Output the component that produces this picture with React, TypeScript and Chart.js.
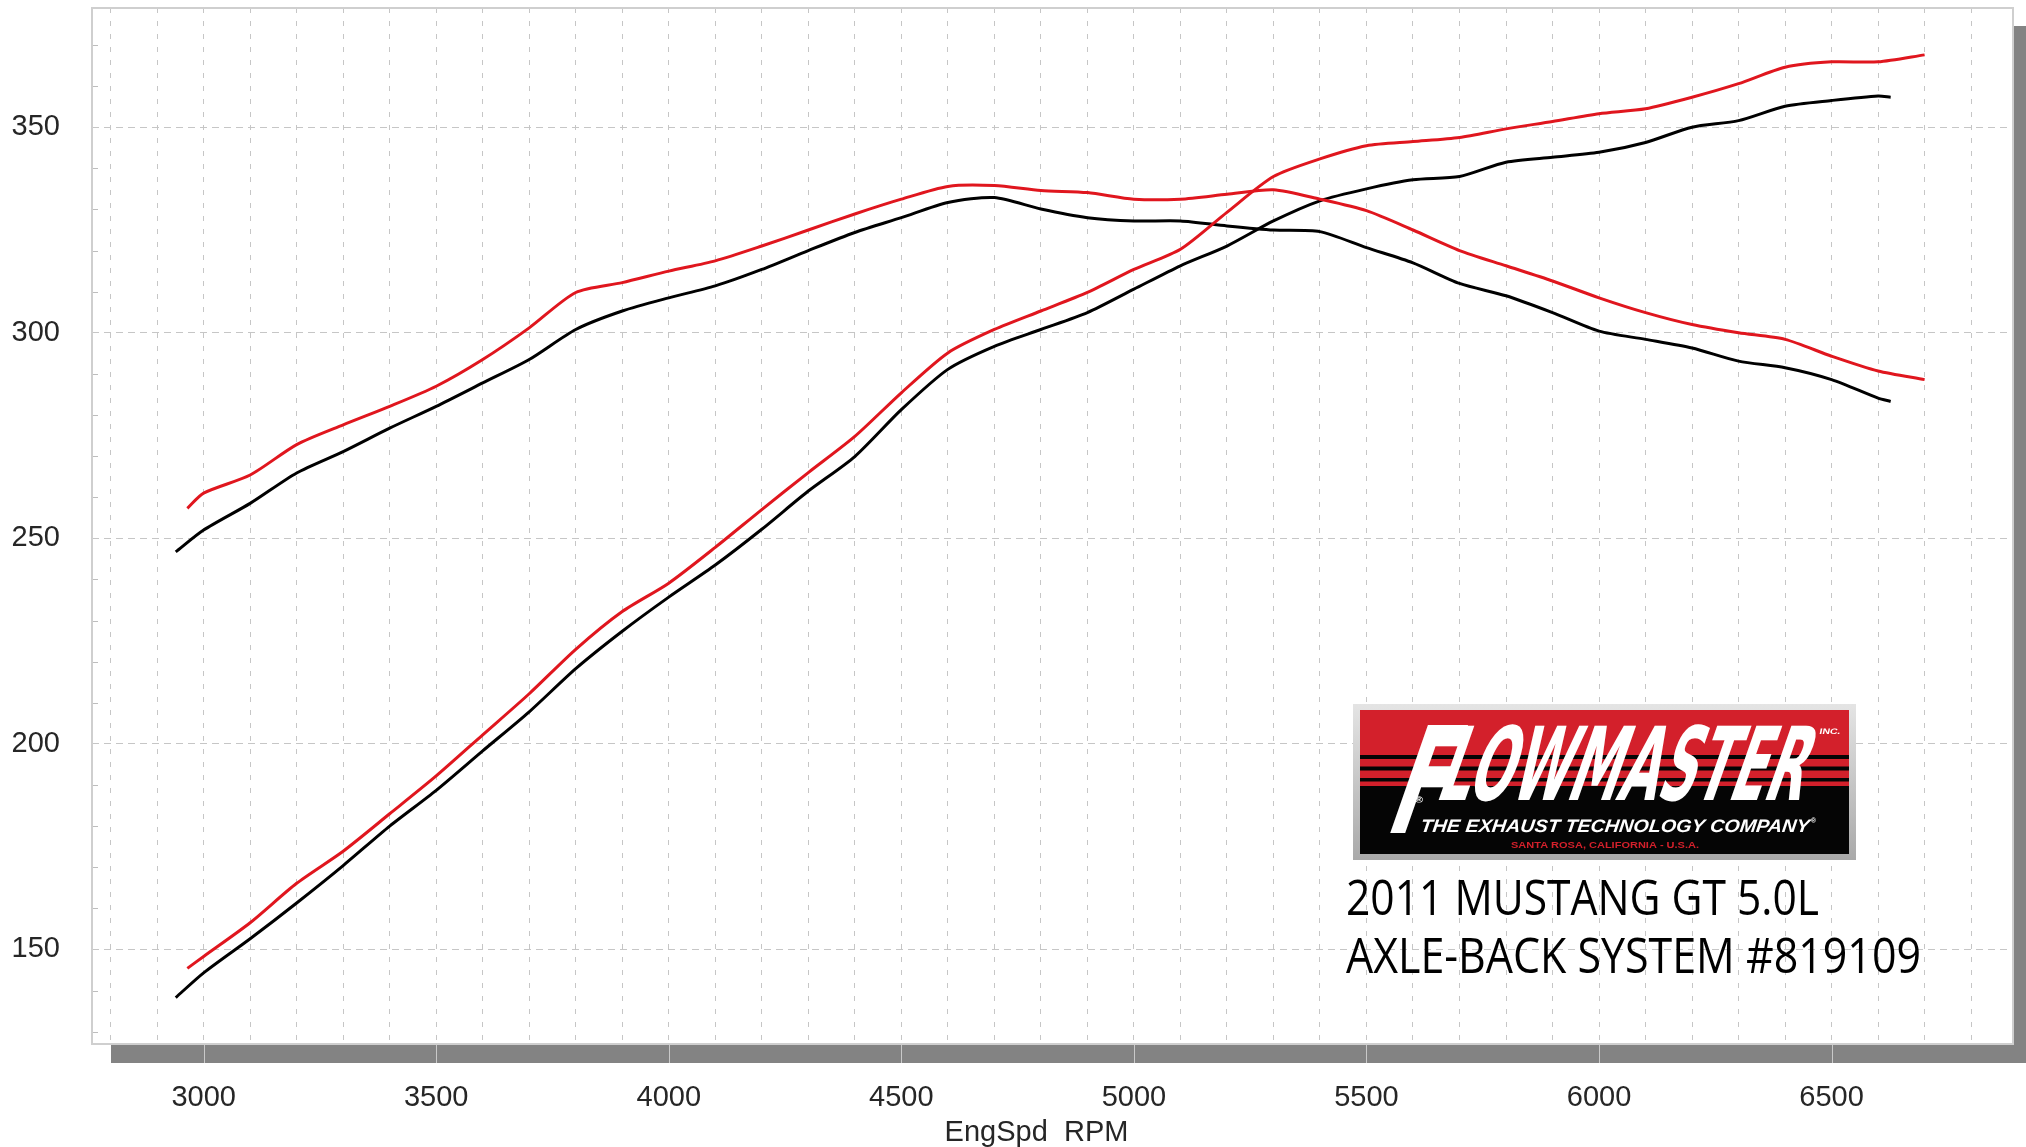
import React, { useEffect, useRef } from 'react';
import { Chart, registerables } from 'chart.js';

Chart.register(...registerables);

// ---------- data ----------
const rpmRed = [2965, 3000, 3100, 3200, 3300, 3400, 3500, 3600, 3700, 3800, 3900, 4000, 4100, 4200, 4300, 4400, 4500, 4600, 4700, 4800, 4900, 5000, 5100, 5200, 5300, 5400, 5500, 5600, 5700, 5800, 5900, 6000, 6100, 6200, 6300, 6400, 6500, 6600, 6700];
const redTorque = [257.3, 261.0, 265.4, 272.8, 277.6, 282.1, 287.0, 293.5, 301.2, 309.8, 312.2, 315.0, 317.5, 321.1, 325.0, 328.9, 332.5, 335.6, 335.8, 334.6, 334.1, 332.5, 332.5, 333.7, 334.8, 332.5, 329.7, 325.0, 320.0, 316.3, 312.6, 308.5, 304.9, 302.0, 300.0, 298.4, 294.3, 290.7, 288.6];
const redHP = [145.4, 148.3, 156.5, 166.1, 173.9, 183.0, 192.2, 202.2, 212.2, 223.0, 232.2, 239.1, 247.8, 257.0, 266.0, 274.8, 285.4, 295.1, 300.8, 305.3, 309.8, 315.4, 320.3, 329.3, 338.0, 342.3, 345.5, 346.5, 347.5, 349.6, 351.4, 353.3, 354.5, 357.3, 360.6, 364.6, 365.9, 365.9, 367.6];

const rpmBlack = [2940, 3000, 3100, 3200, 3300, 3400, 3500, 3600, 3700, 3800, 3900, 4000, 4100, 4200, 4300, 4400, 4500, 4600, 4700, 4800, 4900, 5000, 5100, 5200, 5300, 5400, 5500, 5600, 5700, 5800, 5900, 6000, 6100, 6200, 6300, 6400, 6500, 6600, 6627];
const blackTorque = [246.7, 252.0, 258.5, 265.9, 271.1, 276.8, 282.1, 287.8, 293.5, 300.8, 305.3, 308.5, 311.4, 315.4, 320.0, 324.4, 328.0, 331.7, 332.9, 330.1, 328.0, 327.2, 327.2, 326.0, 325.0, 324.6, 320.7, 317.0, 312.0, 309.0, 304.9, 300.4, 298.4, 296.3, 293.1, 291.5, 288.6, 284.1, 283.3];
const blackHP = [138.3, 144.3, 152.6, 161.3, 170.4, 180.0, 188.7, 198.3, 207.8, 218.3, 227.4, 235.7, 243.5, 252.2, 261.5, 269.9, 281.3, 291.1, 296.7, 300.8, 304.9, 310.6, 316.3, 321.1, 327.2, 332.1, 335.0, 337.2, 338.0, 341.5, 342.7, 343.9, 346.3, 350.0, 351.6, 355.1, 356.5, 357.6, 357.3];

const xGridTicks = [2800, 2900, 3000, 3100, 3200, 3300, 3400, 3500, 3600, 3700, 3800, 3900, 4000, 4100, 4200, 4300, 4400, 4500, 4600, 4700, 4800, 4900, 5000, 5100, 5200, 5300, 5400, 5500, 5600, 5700, 5800, 5900, 6000, 6100, 6200, 6300, 6400, 6500, 6600, 6700, 6800];
const xLabelTicks = [3000, 3500, 4000, 4500, 5000, 5500, 6000, 6500];
const yTicks = [150, 200, 250, 300, 350];
const yMinorTicks = [130, 140, 160, 170, 180, 190, 210, 220, 230, 240, 260, 270, 280, 290, 310, 320, 330, 340, 360, 370];

const xTitle = 'EngSpd  RPM';
const logoWord = ['F', 'LOWMASTER'];
const logoInc = 'INC.';
const logoTagline = 'THE EXHAUST TECHNOLOGY COMPANY';
const logoPlace = 'SANTA ROSA, CALIFORNIA - U.S.A.';
const captionLines = ['2011 MUSTANG GT 5.0L', 'AXLE-BACK SYSTEM #819109'];

// ---------- styles ----------
const W = 2026;
const H = 1147;
const RED = '#e0161e';
const LOGO_RED = '#d3202b';
const GRID = '#c6c6c6';
const TICK_COLOR = '#262626';
const TICK_FONT = '"Liberation Sans", Arial, sans-serif';

const toXY = (xs: number[], ys: number[]) => xs.map((x, i) => ({ x, y: ys[i] }));

function fitText(
  ctx: CanvasRenderingContext2D,
  text: string,
  x: number,
  baseline: number,
  width: number,
  font: string,
  color: string,
  skew = 0
) {
  ctx.save();
  ctx.font = font;
  const w = ctx.measureText(text).width || 1;
  ctx.translate(x, baseline);
  ctx.transform(1, 0, -skew, 1, 0, 0);
  ctx.scale(width / w, 1);
  ctx.fillStyle = color;
  ctx.textAlign = 'left';
  ctx.textBaseline = 'alphabetic';
  ctx.fillText(text, 0, 0);
  ctx.restore();
}

const zeroPadding = (s: any) => {
  s.paddingTop = 0;
  s.paddingBottom = 0;
  s.paddingLeft = 0;
  s.paddingRight = 0;
};

const decorPlugin = {
  id: 'decor',
  beforeDraw(chart: any) {
    const { ctx, chartArea: a } = chart;
    ctx.save();
    ctx.fillStyle = '#ffffff';
    ctx.fillRect(0, 0, W, H);
    // drop shadow of the plot frame
    ctx.fillStyle = '#838383';
    ctx.fillRect(a.left + 19, a.bottom, W - (a.left + 19), 19);
    ctx.fillRect(a.right, a.top + 18, W - a.right, a.bottom + 19 - (a.top + 18));
    // major x ticks crossing the shadow
    const xs = chart.scales.x;
    ctx.strokeStyle = '#c9c9c9';
    ctx.lineWidth = 1;
    xLabelTicks.forEach((v) => {
      const px = Math.round(xs.getPixelForValue(v)) + 0.5;
      ctx.beginPath();
      ctx.moveTo(px, a.bottom);
      ctx.lineTo(px, a.bottom + 19);
      ctx.stroke();
    });
    ctx.restore();
  },
  beforeDatasetsDraw(chart: any) {
    const { ctx, chartArea: a } = chart;
    const ys = chart.scales.y;
    ctx.save();
    ctx.strokeStyle = '#bdbdbd';
    ctx.lineWidth = 1;
    yMinorTicks.forEach((v) => {
      const py = Math.round(ys.getPixelForValue(v)) + 0.5;
      ctx.beginPath();
      ctx.moveTo(a.left, py);
      ctx.lineTo(a.left + 6, py);
      ctx.stroke();
    });
    ctx.strokeStyle = '#cfcfcf';
    ctx.lineWidth = 2;
    ctx.strokeRect(a.left, a.top, a.right - a.left, a.bottom - a.top);
    ctx.restore();
  },
  afterDraw(chart: any) {
    const { ctx, chartArea: a } = chart;
    ctx.save();
    // x axis title
    ctx.font = `29px ${TICK_FONT}`;
    ctx.fillStyle = TICK_COLOR;
    ctx.textAlign = 'center';
    ctx.textBaseline = 'alphabetic';
    ctx.fillText(xTitle, (a.left + a.right) / 2 - 16, 1141);

    // ---- logo ----
    const bx = 1353, by = 704, bw = 503, bh = 156;
    const g = ctx.createLinearGradient(0, by, 0, by + bh);
    g.addColorStop(0, '#e4e4e4');
    g.addColorStop(1, '#a9a9a9');
    ctx.fillStyle = g;
    ctx.fillRect(bx, by, bw, bh);
    const ix = 1360, iy = 710, iw = 489, ih = 144;
    ctx.fillStyle = '#050505';
    ctx.fillRect(ix, iy, iw, ih);
    ctx.fillStyle = LOGO_RED;
    ctx.fillRect(ix, iy, iw, 45);
    ctx.fillRect(ix, iy + 49, iw, 7.5);
    ctx.fillRect(ix, iy + 60.5, iw, 7.5);
    ctx.fillRect(ix, iy + 71.5, iw, 4.5);

    const heavy = '"Liberation Sans Narrow", "DejaVu Sans Condensed", "Liberation Sans", sans-serif';
    fitText(ctx, logoWord[0], 1383, 833, 54, `bold 148px ${heavy}`, '#ffffff', 0.35);
    fitText(ctx, logoWord[1], 1434, 800, 366, `bold 102px ${heavy}`, '#ffffff', 0.35);
    fitText(ctx, logoInc, 1819, 734, 21, `bold 8px ${TICK_FONT}`, '#ffffff', 0.2);
    fitText(ctx, '\u00ae', 1415, 803, 8, `bold 9px ${TICK_FONT}`, '#ffffff');
    fitText(ctx, logoTagline, 1420, 832, 389, `bold italic 18px ${TICK_FONT}`, '#ffffff', 0.12);
    fitText(ctx, '\u00ae', 1811, 823, 5, `bold 7px ${TICK_FONT}`, '#ffffff');
    fitText(ctx, logoPlace, 1511, 848, 188, `bold 9px ${TICK_FONT}`, LOGO_RED);

    // ---- caption ----
    const cap = '"Open Sans", "Noto Sans", sans-serif';
    fitText(ctx, captionLines[0], 1346, 915, 473, `50px ${cap}`, '#000000');
    fitText(ctx, captionLines[1], 1346, 973, 575, `50px ${cap}`, '#000000');
    ctx.restore();
  },
};

export default function App() {
  const ref = useRef<HTMLCanvasElement>(null);

  useEffect(() => {
    if (!ref.current) return;
    const lineStyle = { pointRadius: 0, borderWidth: 3, tension: 0.25, fill: false };
    const chart = new Chart(ref.current, {
      type: 'line',
      data: {
        datasets: [
          { label: 'Torque (Flowmaster)', data: toXY(rpmRed, redTorque), borderColor: RED, ...lineStyle },
          { label: 'HP (Flowmaster)', data: toXY(rpmRed, redHP), borderColor: RED, ...lineStyle },
          { label: 'Torque (Stock)', data: toXY(rpmBlack, blackTorque), borderColor: '#000000', ...lineStyle },
          { label: 'HP (Stock)', data: toXY(rpmBlack, blackHP), borderColor: '#000000', ...lineStyle },
        ],
      },
      options: {
        responsive: false,
        animation: false,
        events: [],
        layout: { padding: { left: 0, right: 13, top: 8, bottom: 0 } },
        plugins: { legend: { display: false }, tooltip: { enabled: false }, title: { display: false } },
        scales: {
          x: {
            type: 'linear',
            min: 2760,
            max: 6890,
            afterBuildTicks: (s: any) => {
              s.ticks = xGridTicks.map((v) => ({ value: v }));
            },
            afterFit: (s: any) => {
              s.height = 103;
              zeroPadding(s);
            },
            grid: { color: GRID, lineWidth: 1, drawTicks: false },
            border: { display: false, dash: [5, 8] },
            ticks: {
              autoSkip: false,
              maxRotation: 0,
              padding: 37,
              color: TICK_COLOR,
              font: { family: TICK_FONT, size: 29 },
              callback: (v: any) => (xLabelTicks.includes(Number(v)) ? String(v) : ''),
            },
          },
          y: {
            type: 'linear',
            min: 127,
            max: 379,
            afterBuildTicks: (s: any) => {
              s.ticks = yTicks.map((v) => ({ value: v }));
            },
            afterFit: (s: any) => {
              s.width = 92;
              zeroPadding(s);
            },
            grid: { color: GRID, lineWidth: 1, drawTicks: false },
            border: { display: false, dash: [7, 5] },
            ticks: {
              padding: 32,
              color: TICK_COLOR,
              font: { family: TICK_FONT, size: 29 },
              callback: (v: any) => String(v),
            },
          },
        },
      },
      plugins: [decorPlugin],
    } as any);
    return () => chart.destroy();
  }, []);

  return (
    <div style={{ position: 'absolute', left: 0, top: 0, width: W, height: H, overflow: 'hidden', background: '#fff' }}>
      <canvas ref={ref} width={W} height={H} style={{ display: 'block', width: W, height: H }} />
    </div>
  );
}
